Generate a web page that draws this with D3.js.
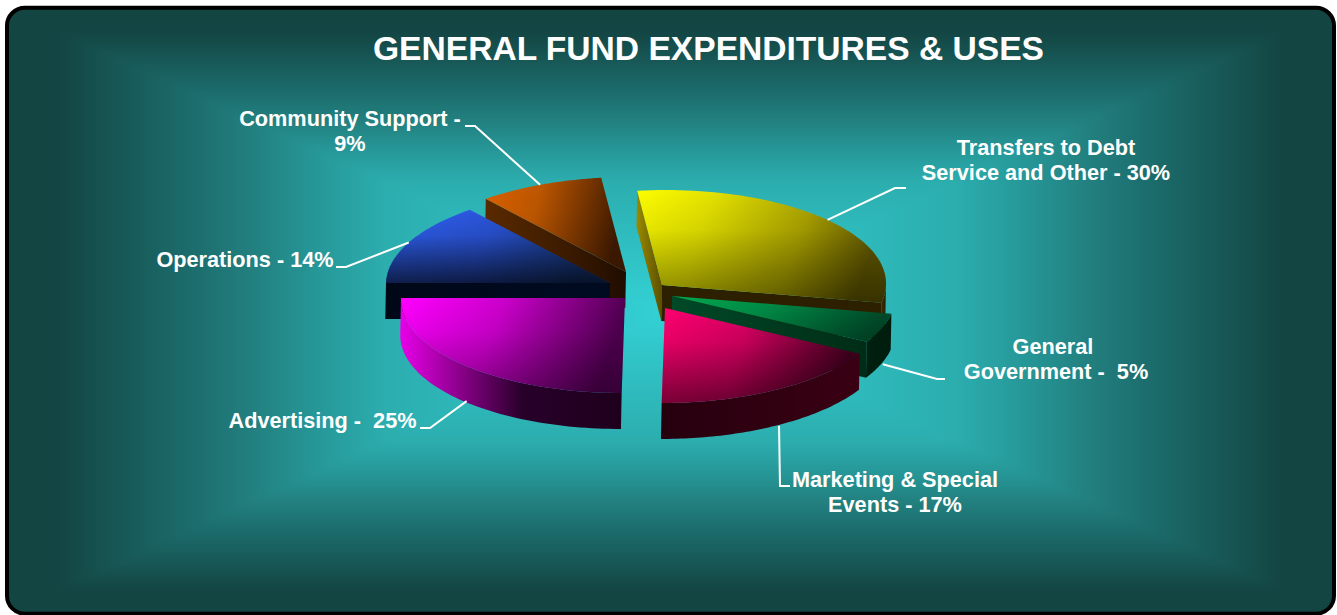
<!doctype html>
<html lang="en">
<head>
<meta charset="UTF-8">
<title>General Fund Expenditures & Uses</title>
<style>
	html, body { margin: 0; padding: 0; background: #fff; overflow: hidden; }
	svg { display: block; }
	text { font-family: "Liberation Sans", Arial, sans-serif; font-weight: bold; fill: #fff; }
</style>
<script src="https://d3js.org/d3.v7.min.js"></script>
</head>
<body>
<svg id="chart" width="1337" height="615"></svg>
<script>
// values, clockwise from the yellow slice
var categories = ["Transfers to Debt Service and Other", "General Government", "Marketing & Special Events", "Advertising", "Operations", "Community Support"];
var shares = [30, 5, 17, 25, 14, 9];
var labelLines = [
	["Transfers to Debt", "Service and Other - 30%"],
	["General ", "Government -  5%"],
	["Marketing & Special", "Events - 17%"],
	["Advertising -  25%"],
	["Operations - 14%"],
	["Community Support -", "9%"]
];
var chartTitle = "GENERAL FUND EXPENDITURES & USES";

// layout + look, one entry per slice
var sliceCenter = [[662, 285], [672, 296], [665, 308], [625, 298], [610, 283], [626, 272]];
var labelPos = [[1046, 155], [1056, 354], [895, 487], [322.5, 428], [245, 267], [350, 126]];
var elbowEnd = [[906, 188], [945, 379], [790, 486], [420, 428], [336, 267], [465, 126]];
var elbowLen = [-11, -8, -10, 10, 10, 10];
var faceStops = [
	[[0, "#fdfd00"], [0.3, "#e4e200"], [0.7, "#aca400"], [1, "#645a00"]],
	[[0, "#00a850"], [0.45, "#008c46"], [1, "#004c2a"]],
	[[0, "#ff0070"], [0.45, "#d80062"], [1, "#460020"]],
	[[0, "#ff00ff"], [0.45, "#cc00cc"], [1, "#500050"]],
	[[0, "#2f62f5"], [0.5, "#2a54d8"], [1, "#183a80"]],
	[[0, "#dc6200"], [0.4, "#bc5600"], [1, "#401a00"]]
];
var faceFade = [0.45, 0.18, 0.5, 0.32, 0.68, 0.1];
var arcStops = [
	[[0, "#3c2e00"], [1, "#2c2000"]],
	[[0, "#002010"], [1, "#001c0c"]],
	[[0, "#26000e"], [1, "#3a0014"]],
	[[0, "#e800e8"], [0.3, "#800080"], [0.55, "#28002a"], [1, "#1e001c"]],
	[[0, "#000818"], [1, "#000818"]],
	[[0, "#301400"], [1, "#301400"]]
];
var cutStops = [
	[[0, "#2c2000"], [1, "#2c2000"]],
	[[0, "#004a28"], [1, "#002c16"]],
	[[0, "#26000e"], [1, "#26000e"]],
	[[0, "#20001c"], [1, "#20001c"]],
	[[0, "#000818"], [0.8, "#000a20"], [1, "#000a20"]],
	[[0, "#5a2a00"], [0.6, "#3a1a00"], [1, "#200c00"]]
];
// the yellow slice shows its starting cut, which is lit differently
var startCutStops = [[0, "#9a8a00"], [1, "#5c5000"]];

var depth = 36;
var lean = 0.035; // pie plane leans a bit, tops go right and bottoms go left
var x = d3.scaleLinear().domain([-1, 1]).range([-224, 224]);
var y = d3.scaleLinear().domain([-1, 1]).range([95, -95]);

var svg = d3.select("#chart");
var defs = svg.append("defs");

function addGradient(id, stops, x2, y2) {
	var g = defs.append("linearGradient").attr("id", id)
		.attr("x1", 0).attr("y1", 0).attr("x2", x2).attr("y2", y2);
	stops.forEach(function(s) {
		var st = g.append("stop").attr("offset", s[0]).attr("stop-color", s[1]);
		if (s[2] !== undefined) st.attr("stop-opacity", s[2]);
	});
}

// background: rectangular path gradient, four triangles meeting in the middle
var frame = { x: 7, y: 7.7, w: 1327, h: 606, r: 18 };
var mid = [670, 312];
var bgStops = [[0, "#33d1d5"], [0.43, "#2cadae"], [0.52, "#279a9b"], [0.63, "#22807f"], [0.72, "#1c6d6d"], [0.86, "#165250"], [0.92, "#134543"], [1, "#134543"]];
defs.append("clipPath").attr("id", "frameClip").append("rect")
	.attr("x", frame.x).attr("y", frame.y).attr("width", frame.w).attr("height", frame.h).attr("rx", frame.r);
defs.append("filter").attr("id", "soft")
	.attr("filterUnits", "userSpaceOnUse").attr("x", -100).attr("y", -100).attr("width", 1537).attr("height", 815)
	.attr("color-interpolation-filters", "sRGB")
	.append("feGaussianBlur").attr("stdDeviation", 3);
var corners = [[frame.x, frame.y], [frame.x + frame.w, frame.y], [frame.x + frame.w, frame.y + frame.h], [frame.x, frame.y + frame.h]];
var edges = [[mid[0], frame.y], [frame.x + frame.w, mid[1]], [mid[0], frame.y + frame.h], [frame.x, mid[1]]];
// triangles run past the frame so the blur does not eat the edge
var farCorners = corners.map(function(c) { return [mid[0] + (c[0] - mid[0]) * 1.1, mid[1] + (c[1] - mid[1]) * 1.1]; });
var bg = svg.append("g").attr("clip-path", "url(#frameClip)").append("g").attr("filter", "url(#soft)");
corners.forEach(function(c, i) {
	var id = "bg" + i;
	var g = defs.append("linearGradient").attr("id", id).attr("gradientUnits", "userSpaceOnUse")
		.attr("x1", mid[0]).attr("y1", mid[1]).attr("x2", edges[i][0]).attr("y2", edges[i][1]);
	bgStops.forEach(function(s) { g.append("stop").attr("offset", s[0]).attr("stop-color", s[1]); });
	bg.append("path")
		.attr("d", d3.line()([mid, farCorners[i], farCorners[(i + 1) % 4]]) + "Z")
		.attr("fill", "url(#" + id + ")")
		.attr("stroke", "url(#" + id + ")")
		.attr("stroke-width", 1);
});
svg.append("rect")
	.attr("x", frame.x).attr("y", frame.y).attr("width", frame.w).attr("height", frame.h).attr("rx", frame.r)
	.attr("fill", "none").attr("stroke", "#000").attr("stroke-width", 4);

// title
svg.append("text").attr("x", 708.5).attr("y", 60).attr("text-anchor", "middle")
	.attr("font-size", 33.6).text(chartTitle);

// pie, angle 0 is 12 o'clock and goes clockwise
var pie = d3.pie().sort(null).startAngle(-7.2 * Math.PI / 180).endAngle((360 - 7.2) * Math.PI / 180);
var arcs = pie(shares);

function pt(i, a, lift) {
	var dy = y(Math.cos(a));
	return [sliceCenter[i][0] + x(Math.sin(a)) - lean * dy - 0.02 * (lift || 0), sliceCenter[i][1] + dy + (lift || 0)];
}
function arcPoints(i, a0, a1, lift) {
	return d3.range(0, 61).map(function(k) { return pt(i, a0 + (a1 - a0) * k / 60, lift); });
}
var line = d3.line();

function closed(points) { return line(points) + "Z"; }

function cutFace(i, a) {
	var c = sliceCenter[i];
	var p = pt(i, a), q = pt(i, a, depth);
	return closed([c, p, q, [c[0] - 0.02 * depth, c[1] + depth]]);
}

// back to front
var drawOrder = [5, 4, 3, 0, 1, 2];
var layer = svg.append("g");

drawOrder.forEach(function(i) {
	var a = arcs[i];
	var g = layer.append("g");

	// cut faces, only the ones turned towards us
	if (Math.cos(a.startAngle - Math.PI / 2) < -0.001) {
		addGradient("start" + i, i === 0 ? startCutStops : cutStops[i], 1, 0);
		g.append("path").attr("d", cutFace(i, a.startAngle)).attr("fill", "url(#start" + i + ")");
	}
	if (Math.cos(a.endAngle + Math.PI / 2) < -0.001) {
		addGradient("end" + i, cutStops[i], 1, 0);
		g.append("path").attr("d", cutFace(i, a.endAngle)).attr("fill", "url(#end" + i + ")");
	}

	// outer wall, front half of the ring only
	var a0 = Math.max(a.startAngle, Math.PI / 2), a1 = Math.min(a.endAngle, 3 * Math.PI / 2);
	if (a1 > a0) {
		var top = arcPoints(i, a0, a1);
		var bottom = arcPoints(i, a1, a0, depth);
		addGradient("wall" + i, arcStops[i], 1, 0);
		g.append("path").attr("d", closed(top.concat(bottom))).attr("fill", "url(#wall" + i + ")");
	}

	// top face: colour runs left to right, then fades to black downwards
	var face = closed([sliceCenter[i]].concat(arcPoints(i, a.startAngle, a.endAngle)));
	addGradient("face" + i, faceStops[i], 1, 0.15);
	addGradient("fade" + i, [[0, "#000", 0], [0.35, "#000", faceFade[i] * 0.15], [1, "#000", faceFade[i]]], 0, 1);
	g.append("path").attr("d", face).attr("fill", "url(#face" + i + ")");
	g.append("path").attr("d", face).attr("fill", "url(#fade" + i + ")");
});

// leader lines start from the middle of each slice's rim
arcs.forEach(function(a, i) {
	var m = (a.startAngle + a.endAngle) / 2;
	var front = Math.cos(m) < -0.2;
	var p = pt(i, m, front ? depth : 0);
	if (front) p[0] = sliceCenter[i][0] + x(Math.sin(m)); // rim is nearly flat down here
	var e = elbowEnd[i];
	svg.append("path")
		.attr("d", line([p, [e[0] + elbowLen[i], e[1]], e]))
		.attr("fill", "none").attr("stroke", "#fff").attr("stroke-width", 2);
});

// labels
labelLines.forEach(function(lines, i) {
	var t = svg.append("text").attr("text-anchor", "middle").attr("font-size", 21.7)
		.style("white-space", "pre");
	lines.forEach(function(s, k) {
		t.append("tspan").attr("x", labelPos[i][0]).attr("y", labelPos[i][1] + k * 25).text(s);
	});
});
</script>
</body>
</html>
